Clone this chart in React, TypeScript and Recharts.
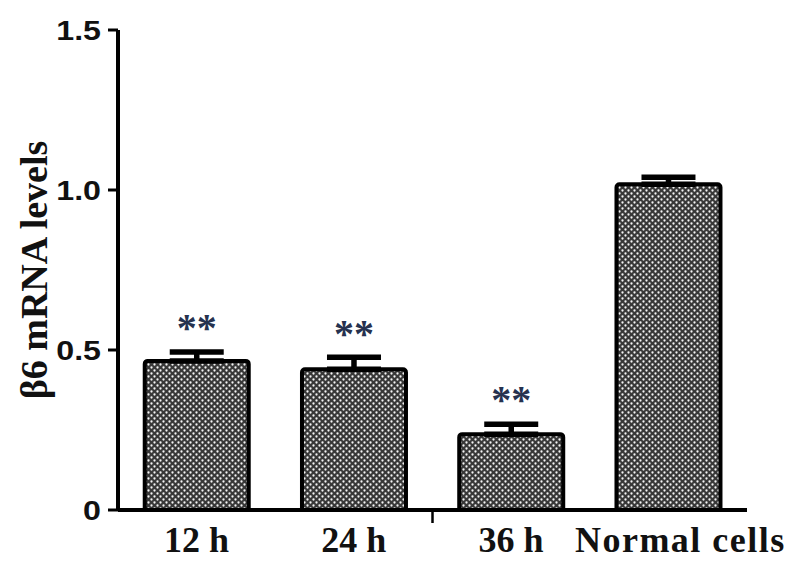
import React from 'react';
import { BarChart, Bar, XAxis, YAxis, ErrorBar, LabelList, ReferenceLine, Label } from 'recharts';

const categories = ['12 h', '24 h', '36 h', 'Normal cells'];
const values = [0.466, 0.44, 0.237, 1.018];
const errors = [0.028, 0.037, 0.031, 0.022];
const marks = ['**', '**', '**', ''];
const yTicks = [0, 0.5, 1.0, 1.5];
const yTickLabels = ['0', '0.5', '1.0', '1.5'];
const splitAt = '36 h';

const data = categories.map((c, i) => ({ name: c, value: values[i], err: [0, errors[i]], sig: marks[i] }));

const SERIF = '"Liberation Serif", "Times New Roman", serif';
const SANS = '"Liberation Sans", Arial, sans-serif';

const YTick = (props: any) => {
  const { x, y, payload } = props;
  const idx = yTicks.indexOf(payload.value);
  return (
    <g transform={`translate(${x}, ${y}) scale(1.15, 1)`}>
      <text x={0} y={0} textAnchor="end" dominantBaseline="central" fontFamily={SANS} fontWeight="bold" fontSize={28} fill="#111">
        {idx >= 0 ? yTickLabels[idx] : payload.value}
      </text>
    </g>
  );
};

const XTick = (props: any) => {
  const { x, y, payload } = props;
  const wide = String(payload.value).length > 6;
  return (
    <text x={wide ? x + 12 : x} y={y} dy="0.71em" textAnchor="middle" fontFamily={SERIF} fontWeight="bold" fontSize={36} letterSpacing={wide ? 1.5 : 0} fill="#111">
      {payload.value}
    </text>
  );
};

const StarLabel = (props: any) => {
  const { x, y, width, height, value, index } = props;
  if (!value) return null;
  const pxPerUnit = height / values[index];
  const capY = y - errors[index] * pxPerUnit;
  const fs = 40;
  const centerY = capY - 30;
  return (
    <text x={x + width / 2} y={centerY + 0.48 * fs} textAnchor="middle" fontFamily={SERIF} fontWeight="bold" fontSize={fs} fill="#26324f">
      {value}
    </text>
  );
};

const SplitTick = (props: any) => {
  const { x1, y1, y2 } = props;
  const bottom = Math.max(y1, y2);
  return <line x1={x1} x2={x1} y1={bottom} y2={bottom + 13} stroke="#000" strokeWidth={2.5} />;
};

const YLabel = (props: any) => {
  const vb = props.viewBox || {};
  const cx = (vb.x || 0) + 34;
  const cy = (vb.y || 0) + (vb.height || 0) / 2;
  return (
    <text x={cx} y={cy} transform={`rotate(-90, ${cx}, ${cy})`} textAnchor="middle" dominantBaseline="central" fontFamily={SERIF} fontWeight="bold" fontSize={38} fill="#111">
      β6 mRNA levels
    </text>
  );
};

export default function App() {
  return (
    <div style={{ position: 'absolute', left: 0, top: 0, width: 800, height: 575, background: '#fff' }}>
      <BarChart width={800} height={575} data={data} margin={{ top: 30, right: 53, bottom: 0, left: 0 }} barCategoryGap="17%">
        <defs>
          <pattern id="dots" width="6" height="6" patternUnits="userSpaceOnUse">
            <rect width="6" height="6" fill="#383838" />
            <circle cx="1.5" cy="1.5" r="1.15" fill="#f4f4f4" />
            <circle cx="4.5" cy="4.5" r="1.15" fill="#f4f4f4" />
          </pattern>
        </defs>
        <XAxis
          dataKey="name"
          height={65}
          tickLine={false}
          tickSize={0}
          tickMargin={16}
          axisLine={{ stroke: '#000', strokeWidth: 4 }}
          tick={<XTick />}
          interval={0}
        />
        <YAxis
          width={118}
          domain={[0, 1.5]}
          ticks={yTicks}
          tickSize={10}
          tickMargin={7}
          axisLine={{ stroke: '#000', strokeWidth: 4 }}
          tickLine={{ stroke: '#000', strokeWidth: 3 }}
          tick={<YTick />}
        >
          <Label content={<YLabel />} />
        </YAxis>
        <ReferenceLine x={splitAt} position="start" shape={<SplitTick />} />
        <Bar dataKey="value" fill="url(#dots)" stroke="#000" strokeWidth={4} radius={[3, 3, 0, 0]} isAnimationActive={false}>
          <ErrorBar dataKey="err" direction="y" width={27} stroke="#000" strokeWidth={5.5} />
          <LabelList dataKey="sig" content={<StarLabel />} />
        </Bar>
      </BarChart>
    </div>
  );
}
